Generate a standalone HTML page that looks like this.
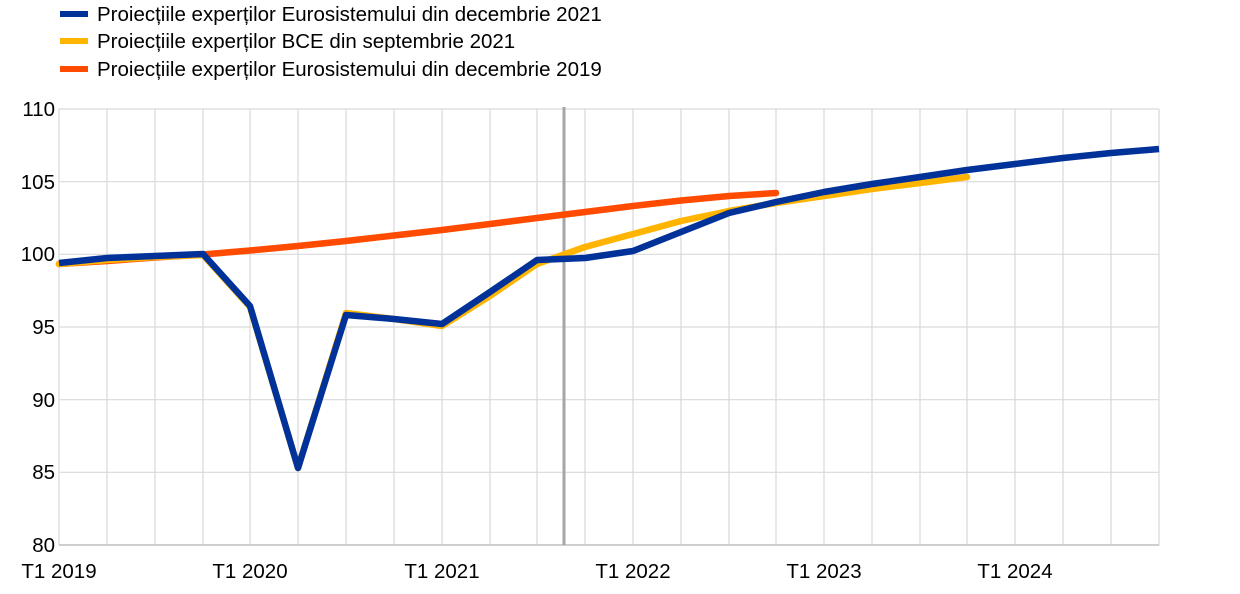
<!DOCTYPE html>
<html><head><meta charset="utf-8"><style>body{margin:0;background:#fff}svg{display:block}text{font-family:"Liberation Sans",Arial,sans-serif;fill:#000}</style></head>
<body>
<svg width="1240" height="594" viewBox="0 0 1240 594" xmlns="http://www.w3.org/2000/svg">
<g stroke="#d9d9d9" stroke-width="1.2">
<line x1="59" y1="109" x2="1159" y2="109"/><line x1="59" y1="181.7" x2="1159" y2="181.7"/><line x1="59" y1="254.3" x2="1159" y2="254.3"/><line x1="59" y1="327" x2="1159" y2="327"/><line x1="59" y1="399.7" x2="1159" y2="399.7"/><line x1="59" y1="472.3" x2="1159" y2="472.3"/>
<line x1="59" y1="109" x2="59" y2="545"/><line x1="107" y1="109" x2="107" y2="545"/><line x1="155" y1="109" x2="155" y2="545"/><line x1="203" y1="109" x2="203" y2="545"/><line x1="250" y1="109" x2="250" y2="545"/><line x1="298" y1="109" x2="298" y2="545"/><line x1="346" y1="109" x2="346" y2="545"/><line x1="394" y1="109" x2="394" y2="545"/><line x1="442" y1="109" x2="442" y2="545"/><line x1="490" y1="109" x2="490" y2="545"/><line x1="537" y1="109" x2="537" y2="545"/><line x1="585" y1="109" x2="585" y2="545"/><line x1="633" y1="109" x2="633" y2="545"/><line x1="681" y1="109" x2="681" y2="545"/><line x1="729" y1="109" x2="729" y2="545"/><line x1="776" y1="109" x2="776" y2="545"/><line x1="824" y1="109" x2="824" y2="545"/><line x1="872" y1="109" x2="872" y2="545"/><line x1="920" y1="109" x2="920" y2="545"/><line x1="967" y1="109" x2="967" y2="545"/><line x1="1015" y1="109" x2="1015" y2="545"/><line x1="1063" y1="109" x2="1063" y2="545"/><line x1="1111" y1="109" x2="1111" y2="545"/><line x1="1159" y1="109" x2="1159" y2="545"/>
</g>
<line x1="59" y1="545" x2="1159" y2="545" stroke="#bfbfbf" stroke-width="1.5"/>
<line x1="564" y1="107" x2="564" y2="545" stroke="#a6a6a6" stroke-width="3"/>
<g font-size="20.5">
<text x="55" y="116" text-anchor="end">110</text><text x="55" y="189" text-anchor="end">105</text><text x="55" y="261" text-anchor="end">100</text><text x="55" y="334" text-anchor="end">95</text><text x="55" y="407" text-anchor="end">90</text><text x="55" y="479" text-anchor="end">85</text><text x="55" y="552" text-anchor="end">80</text>
<text x="59" y="578" text-anchor="middle">T1 2019</text><text x="250" y="578" text-anchor="middle">T1 2020</text><text x="442" y="578" text-anchor="middle">T1 2021</text><text x="633" y="578" text-anchor="middle">T1 2022</text><text x="824" y="578" text-anchor="middle">T1 2023</text><text x="1015" y="578" text-anchor="middle">T1 2024</text>
</g>
<g fill="none" stroke-width="6.5" stroke-linejoin="round">
<polyline stroke="#ff4b00" stroke-linecap="round" points="59,264 107,261 155,257.5 203,254.5 250,250.5 298,246 346,241 394,235.5 442,230 490,224 537,218 585,212 633,206 681,200.5 729,196 776,193"/>
<polyline stroke="#ffb400" stroke-linecap="round" points="59,264 107,260 155,257 203,255 250,307 298,468 346,313 394,319 442,326 490,296 537,264 585,247 633,234 681,221 729,211 776,203 824,196 872,189 920,183 967,177"/>
<polyline stroke="#003299" points="59,263 107,258 155,256 203,254 250,306 298,468 346,315 394,319 442,324 490,292 537,260 585,258 633,251 681,232 729,213 776,202 824,192 872,184 920,177 967,170 1015,164 1063,158 1111,153 1159,149"/>
</g>
<rect x="60" y="11" width="28" height="6" fill="#003299"/>
<rect x="60" y="38" width="28" height="6" fill="#ffb400"/>
<rect x="60" y="66" width="28" height="6" fill="#ff4b00"/>
<g font-size="20.5">
<text x="97" y="21">Proiecțiile experților Eurosistemului din decembrie 2021</text>
<text x="97" y="48">Proiecțiile experților BCE din septembrie 2021</text>
<text x="97" y="76">Proiecțiile experților Eurosistemului din decembrie 2019</text>
</g>
</svg>
</body></html>
